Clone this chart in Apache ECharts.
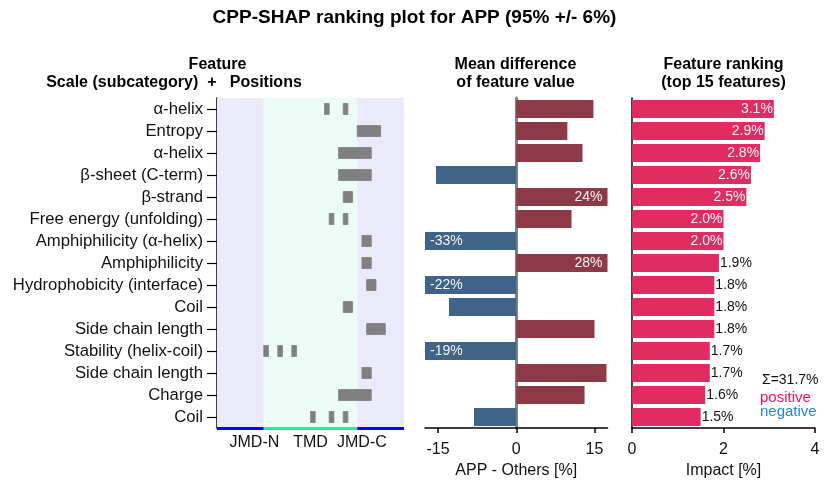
<!DOCTYPE html>
<html><head><meta charset="utf-8">
<script src="https://cdn.jsdelivr.net/npm/echarts@6/dist/echarts.min.js"></script>
<style>html,body{margin:0;padding:0;background:#fff}#c{width:829px;height:489px}</style>
</head><body><div id="c"></div><script>
const features = ['α-helix','Entropy','α-helix','β-sheet (C-term)','β-strand','Free energy (unfolding)','Amphiphilicity (α-helix)','Amphiphilicity','Hydrophobicity (interface)','Coil','Side chain length','Stability (helix-coil)','Side chain length','Charge','Coil'];
const featurePositions = [
  [24,28],[31,32,33,34,35],[27,28,29,30,31,32,33],[27,28,29,30,31,32,33],[28,29],
  [25,28],[32,33],[32,33],[33,34],[28,29],
  [33,34,35,36],[11,14,17],[32,33],[27,28,29,30,31,32,33],[21,25,28]
];
const meanDiff = [14.8, 9.8, 12.7, -15.4, 24, 10.6, -33, 28, -22, -12.9, 15.0, -19, 17.3, 13.1, -8.1];
const impact = [3.1, 2.9, 2.8, 2.6, 2.5, 2.0, 2.0, 1.9, 1.8, 1.8, 1.8, 1.7, 1.7, 1.6, 1.5];
const regionNames = ['JMD-N','TMD','JMD-C'];
const regionBounds = [[0,10],[10,30],[30,40]];
const regionLabelPos = [8,20,31];
const diffTicks = [-15, 0, 15];
const impactTicks = [0, 2, 4];
const sumLabel = 'Σ=31.7%';

const FONT = "'Liberation Sans', Arial, sans-serif";
const regionBg = ['#EAEAFB','#EAFCF5','#EAEAFB'];
const regionLine = ['#0000FF','#20F09A','#0000FF'];
const posColor = '#8E3A46', negColor = '#3F6389', rankColor = '#E02C62';
const diffLimit = 17.5;

const markData = [];
featurePositions.forEach((ps, r) => ps.forEach(p => markData.push([p, r])));

const chart = echarts.init(document.getElementById('c'), null, {renderer:'canvas'});
const grids = [
  {left:217, top:98, width:187, height:330},
  {left:425, top:98, width:182.5, height:330},
  {left:632, top:98, width:183, height:330}
];
const option = {
  animation:false,
  textStyle:{fontFamily:FONT},
  grid: grids,
  xAxis: [
    {gridIndex:0, type:'value', min:0, max:40,
     axisLine:{show:false}, axisTick:{show:false}, splitLine:{show:false},
     axisLabel:{customValues:regionLabelPos, margin:7, fontSize:16, color:'#111', fontFamily:FONT,
       formatter:v => regionNames[regionLabelPos.indexOf(v)] || ''}},
    {gridIndex:1, type:'value', min:-diffLimit, max:diffLimit,
     name:'APP - Others [%]', nameLocation:'middle', nameGap:33,
     nameTextStyle:{fontSize:16, color:'#111', fontFamily:FONT},
     axisLine:{show:true, lineStyle:{color:'#000', width:1.5}},
     axisTick:{show:true, customValues:diffTicks, length:5, lineStyle:{color:'#000', width:1.5}},
     axisLabel:{customValues:diffTicks, margin:14, fontSize:16, color:'#111', fontFamily:FONT},
     splitLine:{show:false}},
    {gridIndex:2, type:'value', min:0, max:4, interval:2,
     name:'Impact [%]', nameLocation:'middle', nameGap:33,
     nameTextStyle:{fontSize:16, color:'#111', fontFamily:FONT},
     axisLine:{show:true, lineStyle:{color:'#000', width:1.5}},
     axisTick:{show:true, length:5, lineStyle:{color:'#000', width:1.5}},
     axisLabel:{margin:14, fontSize:16, color:'#111', fontFamily:FONT},
     splitLine:{show:false}}
  ],
  yAxis: [
    {gridIndex:0, type:'category', data:features, inverse:true,
     axisLine:{show:true, lineStyle:{color:'#000', width:1.5}},
     axisTick:{show:true, alignWithLabel:true, interval:0, length:10, lineStyle:{color:'#000', width:1.2}},
     axisLabel:{interval:0, fontSize:16.7, color:'#111', margin:14, fontFamily:FONT}},
    {gridIndex:1, type:'category', data:features, inverse:true,
     axisLine:{show:true, onZero:true, lineStyle:{color:'#808080', width:3}},
     axisTick:{show:false}, axisLabel:{show:false}},
    {gridIndex:2, type:'category', data:features, inverse:true,
     axisLine:{show:true, lineStyle:{color:'#000', width:1.5}},
     axisTick:{show:false}, axisLabel:{show:false}}
  ],
  series: [
    {type:'custom', xAxisIndex:0, yAxisIndex:0, z:1, silent:true,
     data: regionBounds.map((b,i)=>[b[0], b[1], i]),
     encode:{x:[0,1]},
     renderItem:(params, api) => {
       const cs = params.coordSys;
       const i = api.value(2);
       const x0 = api.coord([api.value(0), 0])[0];
       const x1 = api.coord([api.value(1), 0])[0];
       return {type:'group', children:[
         {type:'rect', shape:{x:x0, y:cs.y, width:x1-x0, height:cs.height}, style:{fill:regionBg[i]}},
         {type:'rect', shape:{x:x0, y:cs.y+cs.height-1, width:x1-x0, height:3}, style:{fill:regionLine[i]}, z2:10}
       ]};
     }},
    {type:'custom', xAxisIndex:0, yAxisIndex:0, z:2, silent:true,
     data: markData, encode:{x:0, y:1},
     renderItem:(params, api) => {
       const p = api.value(0), r = api.value(1);
       const a = api.coord([p-1, r]);
       const b = api.coord([p, r]);
       return {type:'rect', shape:{x:a[0], y:a[1]-5.5, width:b[0]-a[0], height:11},
         style:{fill:'#808080', stroke:'#808080', lineWidth:0.8}};
     }},
    {type:'bar', xAxisIndex:1, yAxisIndex:1, barWidth:18, clip:true, z:1,
     data: meanDiff.map(v => ({value:v, itemStyle:{color: v>0?posColor:negColor},
       label:{show: Math.abs(v) > diffLimit, position: v>0?'insideRight':'insideLeft', distance:5,
         formatter: Math.round(v)+'%', color:'#F4F4F4', fontSize:14, fontFamily:FONT}}))},
    {type:'bar', xAxisIndex:2, yAxisIndex:2, barWidth:18, z:1,
     data: impact.map(v => ({value:v, itemStyle:{color:rankColor},
       label:{show:true, position: v>=2.0?'insideRight':'right', distance:1,
         formatter: v.toFixed(1)+'%', color: v>=2.0?'#F4F4F4':'#111', fontSize:14, fontFamily:FONT}}))}
  ],
  graphic: [
    {type:'text', left:'center', top:8, style:{text:'CPP-SHAP ranking plot for APP (95% +/- 6%)', font:'bold 19px '+FONT, fill:'#000'}},
    {type:'text', x:217.5, y:65, style:{text:'Feature', font:'bold 16px '+FONT, fill:'#000', textAlign:'center', textVerticalAlign:'middle'}},
    {type:'text', x:174, y:83, style:{text:'Scale (subcategory)  +   Positions', font:'bold 16px '+FONT, fill:'#000', textAlign:'center', textVerticalAlign:'middle'}},
    {type:'text', x:515.5, y:65, style:{text:'Mean difference', font:'bold 16px '+FONT, fill:'#000', textAlign:'center', textVerticalAlign:'middle'}},
    {type:'text', x:515.5, y:83, style:{text:'of feature value', font:'bold 16px '+FONT, fill:'#000', textAlign:'center', textVerticalAlign:'middle'}},
    {type:'text', x:723.5, y:65, style:{text:'Feature ranking', font:'bold 16px '+FONT, fill:'#000', textAlign:'center', textVerticalAlign:'middle'}},
    {type:'text', x:723.5, y:83, style:{text:'(top 15 features)', font:'bold 16px '+FONT, fill:'#000', textAlign:'center', textVerticalAlign:'middle'}},
    {type:'text', x:762, y:380, style:{text:sumLabel, font:'14px '+FONT, fill:'#111', textVerticalAlign:'middle'}},
    {type:'text', x:760, y:398, style:{text:'positive', font:'15px '+FONT, fill:'#FF0D57', textVerticalAlign:'middle'}},
    {type:'text', x:760, y:412, style:{text:'negative', font:'15px '+FONT, fill:'#1E88E5', textVerticalAlign:'middle'}}
  ]
};
chart.setOption(option);
</script></body></html>
